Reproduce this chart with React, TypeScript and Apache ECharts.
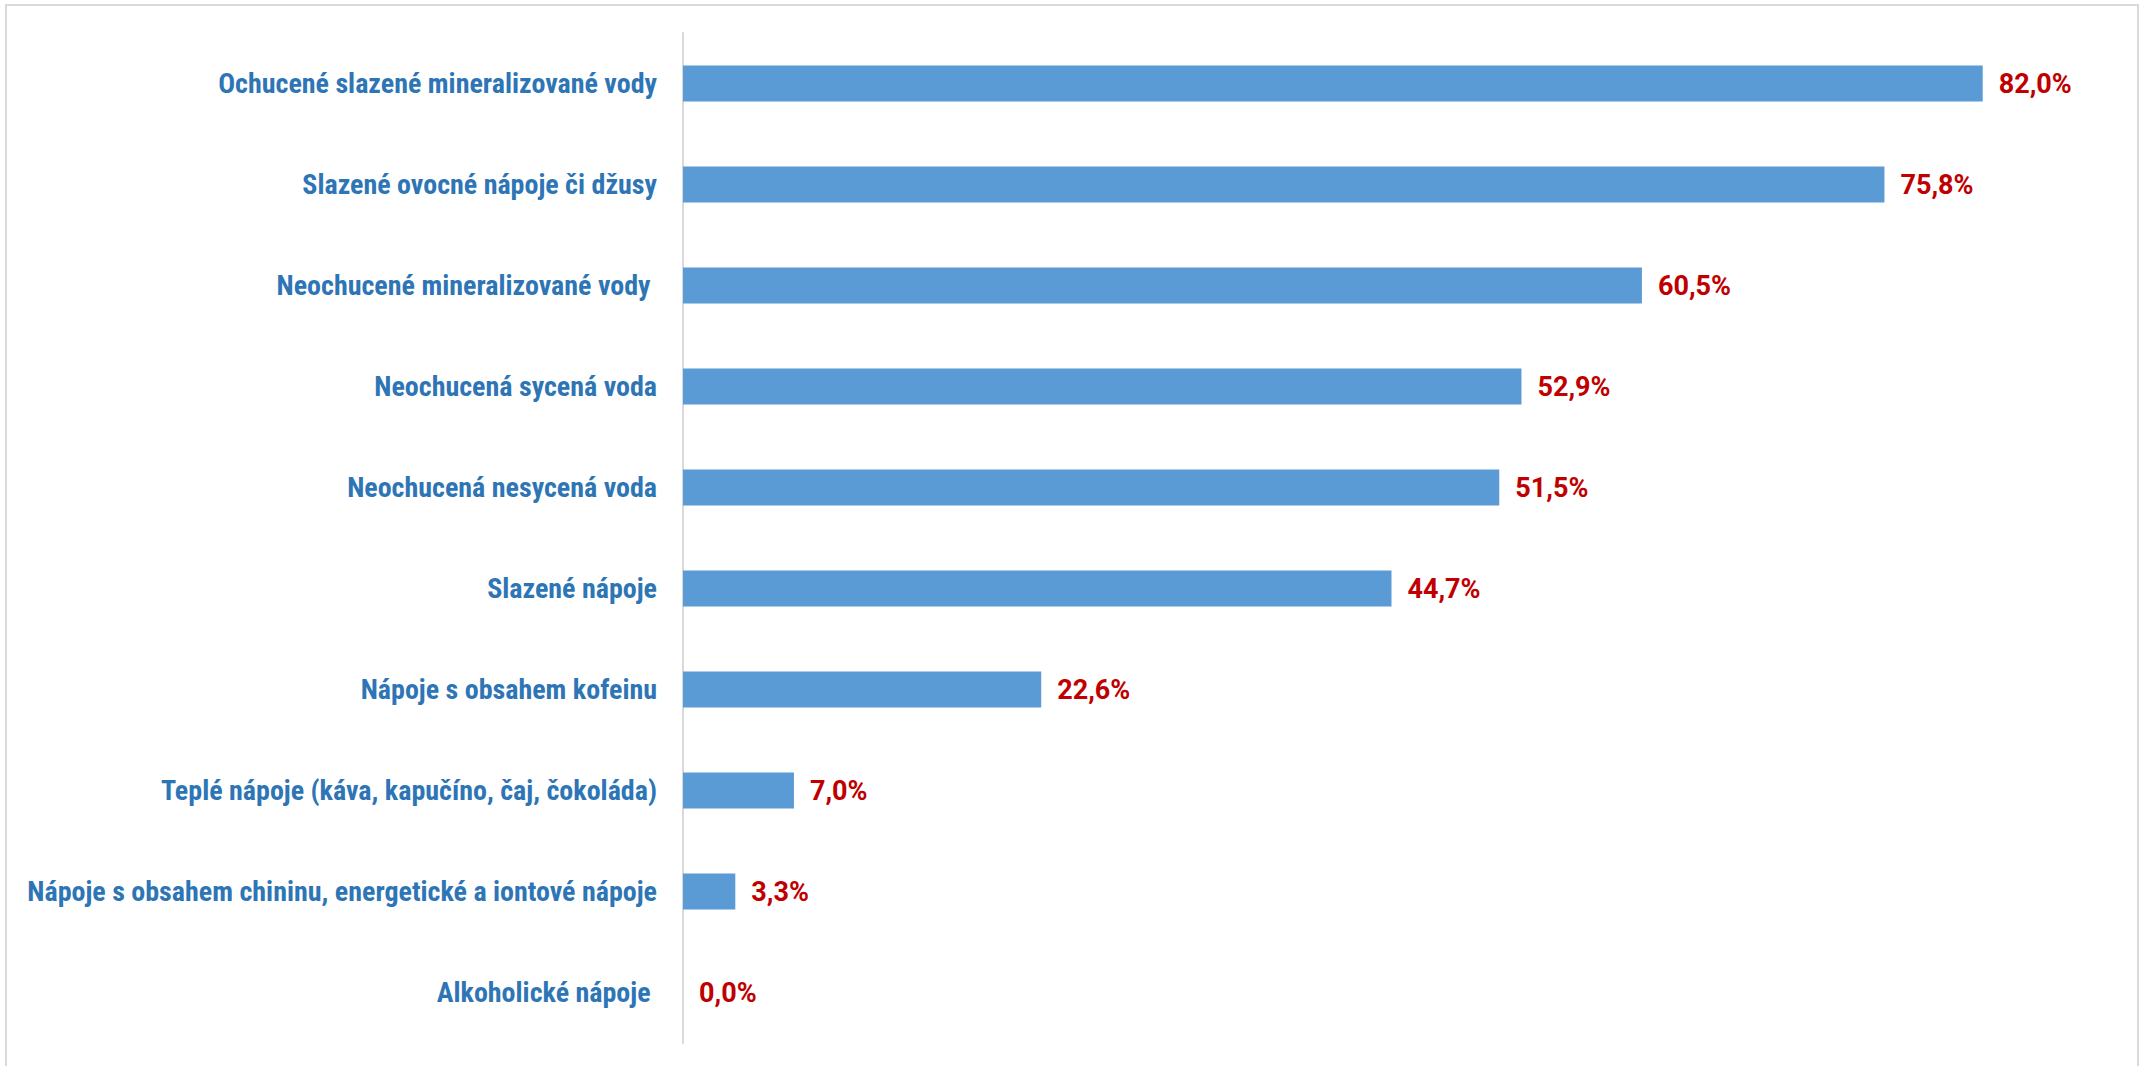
import React, { useEffect, useRef } from "react";
import * as echarts from "echarts";

const categories = [
  "Ochucené slazené mineralizované vody",
  "Slazené ovocné nápoje či džusy",
  "Neochucené mineralizované vody ",
  "Neochucená sycená voda",
  "Neochucená nesycená voda",
  "Slazené nápoje",
  "Nápoje s obsahem kofeinu",
  "Teplé nápoje (káva, kapučíno, čaj, čokoláda)",
  "Nápoje s obsahem chininu, energetické a iontové nápoje",
  "Alkoholické nápoje ",
];
const values = [82.0, 75.8, 60.5, 52.9, 51.5, 44.7, 22.6, 7.0, 3.3, 0.0];
const axisMax = 90;

export default function App() {
  const ref = useRef<HTMLDivElement>(null);
  useEffect(() => {
    document.body.style.margin = "0";
    const chart = echarts.init(ref.current!, null, { renderer: "svg" });
    chart.setOption({
      animation: false,
      backgroundColor: "#ffffff",
      graphic: [
        {
          type: "rect",
          shape: { x: 6, y: 5, width: 2132, height: 1100 },
          style: { fill: "none", stroke: "#d9d9d9", lineWidth: 2 },
          silent: true,
        },
      ],
      grid: { left: 683, top: 33, width: 1426.5, height: 1010, containLabel: false },
      xAxis: {
        type: "value",
        min: 0,
        max: axisMax,
        show: false,
      },
      yAxis: {
        type: "category",
        data: categories,
        inverse: true,
        axisLine: { show: true, lineStyle: { color: "#d9d9d9", width: 2 } },
        axisTick: { show: false },
        axisLabel: {
          margin: 26,
          color: "#2E75B6",
          fontFamily: "'Roboto Condensed', 'DejaVu Sans Condensed', Roboto, sans-serif",
          fontWeight: "bold",
          fontSize: 28,
        },
      },
      series: [
        {
          type: "bar",
          data: values,
          barWidth: 36,
          itemStyle: { color: "#5B9BD5" },
          label: {
            show: true,
            position: "right",
            distance: 16,
            color: "#C00000",
            fontFamily: "Roboto, sans-serif",
            fontWeight: "bold",
            fontSize: 27,
            formatter: (p: any) => p.value.toFixed(1).replace(".", ",") + "%",
          },
        },
      ],
    });
    return () => chart.dispose();
  }, []);
  return <div ref={ref} style={{ width: 2141, height: 1066 }} />;
}
